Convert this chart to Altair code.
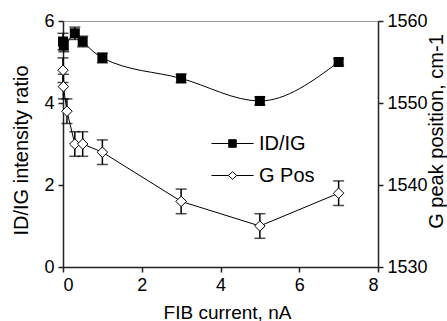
import altair as alt
import pandas as pd

# ---- data ----
id_x = [0, 0.02, 0.3, 0.5, 1, 3, 5, 7]
id_y = [5.5, 5.4, 5.7, 5.5, 5.1, 4.6, 4.05, 5.0]
id_err = [0.2, 0.15, 0.15, 0.13, 0.12, 0.1, 0.1, 0.08]

g_x = [0, 0.01, 0.1, 0.3, 0.5, 1, 3, 5, 7]
g_y = [1554, 1552, 1549, 1545, 1545, 1544, 1538, 1535, 1539]
g_err = [1.5, 1.5, 1.5, 1.5, 1.5, 1.5, 1.5, 1.5, 1.5]

series_names = ["ID/IG", "G Pos"]
x_ticks = [0, 2, 4, 6, 8]
left_ticks = [0, 2, 4, 6]
right_ticks = [1530, 1540, 1550, 1560]

id_df = pd.DataFrame({"x": id_x, "y": id_y,
                      "lo": [a - b for a, b in zip(id_y, id_err)],
                      "hi": [a + b for a, b in zip(id_y, id_err)],
                      "series": "ID/IG"})
g_df = pd.DataFrame({"x": g_x, "y": g_y,
                     "lo": [a - b for a, b in zip(g_y, g_err)],
                     "hi": [a + b for a, b in zip(g_y, g_err)],
                     "series": "G Pos"})

FONT = "Liberation Sans"

xenc = alt.X("x:Q", scale=alt.Scale(domain=[0, 8], nice=False, zero=False),
             axis=alt.Axis(values=x_ticks, title="FIB current, nA", format="d",
                           titleX=164, titleY=51, titleBaseline="alphabetic",
                           titleAnchor="start", titleAlign="center"))

lscale = alt.Scale(domain=[0, 6], nice=False)
rscale = alt.Scale(domain=[1530, 1560], nice=False, zero=False)

laxis = alt.Axis(values=left_ticks, title="ID/IG intensity ratio", orient="left",
                 format="d", titleFontSize=20,
                 titleAngle=270, titleX=-42, titleY=129, titleAlign="center",
                 titleBaseline="middle")
raxis = alt.Axis(values=right_ticks, title="G peak position, cm-1", orient="right",
                 format="d", titleFontSize=20,
                 titleAngle=270, titleX=58, titleY=110, titleAlign="center",
                 titleBaseline="middle")

id_base = alt.Chart(id_df)
id_line = id_base.mark_line(color="black", strokeWidth=1, interpolate="monotone").encode(
    x=xenc, y=alt.Y("y:Q", scale=lscale, axis=laxis))
id_rule = id_base.mark_rule(color="black", strokeWidth=1.5).encode(
    x="x:Q", y=alt.Y("lo:Q", scale=lscale), y2="hi:Q")
id_cap_lo = id_base.mark_tick(color="black", thickness=1.5, size=11, orient="horizontal").encode(
    x="x:Q", y=alt.Y("lo:Q", scale=lscale))
id_cap_hi = id_base.mark_tick(color="black", thickness=1.5, size=11, orient="horizontal").encode(
    x="x:Q", y=alt.Y("hi:Q", scale=lscale))
id_pts = id_base.mark_point(shape="square", filled=True, color="black", size=100, opacity=1).encode(
    x="x:Q", y=alt.Y("y:Q", scale=lscale))

sq_path = "M-1,0L1,0M-0.18,-0.18L0.18,-0.18L0.18,0.18L-0.18,0.18Z"
di_path = "M-1,0L-0.2,0M0.2,0L1,0M-0.2,0L0,-0.18L0.2,0L0,0.18Z"
leg = alt.Legend(title=None, orient="none", legendX=148, legendY=101, padding=0,
                 symbolSize=1764, symbolStrokeColor="black", symbolStrokeWidth=1,
                 symbolOpacity=1, labelFontSize=20, labelFont=FONT, labelColor="black",
                 labelOffset=5, rowPadding=-15, labelLimit=200)
legend_layer = alt.Chart(id_df).transform_filter("false").mark_point(
    strokeWidth=1).encode(
    x="x:Q", y=alt.Y("y:Q", scale=lscale),
    shape=alt.Shape("series:N", scale=alt.Scale(domain=series_names, range=[sq_path, di_path]),
                    legend=leg),
    fill=alt.Fill("series:N", scale=alt.Scale(domain=series_names, range=["black", "white"]),
                  legend=leg),
    stroke=alt.Stroke("series:N", scale=alt.Scale(domain=series_names, range=["black", "black"]),
                      legend=leg))

left = alt.layer(id_line, id_rule, id_cap_lo, id_cap_hi, id_pts, legend_layer)

g_base = alt.Chart(g_df)
g_line = g_base.mark_line(color="black", strokeWidth=1).encode(
    x="x:Q", y=alt.Y("y:Q", scale=rscale, axis=raxis))
g_rule = g_base.mark_rule(color="black", strokeWidth=1.5).encode(
    x="x:Q", y=alt.Y("lo:Q", scale=rscale), y2="hi:Q")
g_cap_lo = g_base.mark_tick(color="black", thickness=1.5, size=11, orient="horizontal").encode(
    x="x:Q", y=alt.Y("lo:Q", scale=rscale))
g_cap_hi = g_base.mark_tick(color="black", thickness=1.5, size=11, orient="horizontal").encode(
    x="x:Q", y=alt.Y("hi:Q", scale=rscale))
g_pts = g_base.mark_point(shape="diamond", filled=True, fill="white", stroke="black",
                          strokeWidth=1, size=110, opacity=1).encode(
    x="x:Q", y=alt.Y("y:Q", scale=rscale))

right = alt.layer(g_line, g_rule, g_cap_lo, g_cap_hi, g_pts)

chart = alt.layer(left, right).resolve_scale(y="independent").properties(
    width=315, height=246,
    autosize=alt.AutoSizeParams(type="none"),
    padding={"left": 63, "top": 21, "right": 69, "bottom": 54},
    background="white",
).configure_view(stroke="#999999", strokeWidth=1).configure_axis(
    grid=False, domainColor="#222222", domainWidth=1.5, tickColor="#222222",
    tickWidth=1.5, tickSize=5, labelFont=FONT, labelFontSize=18, labelColor="black",
    labelPadding=4, titleFont=FONT, titleFontSize=19, titleFontWeight="normal",
    titleColor="black",
)

chart.save("out.html", embed_options={"renderer": "svg", "actions": False})
